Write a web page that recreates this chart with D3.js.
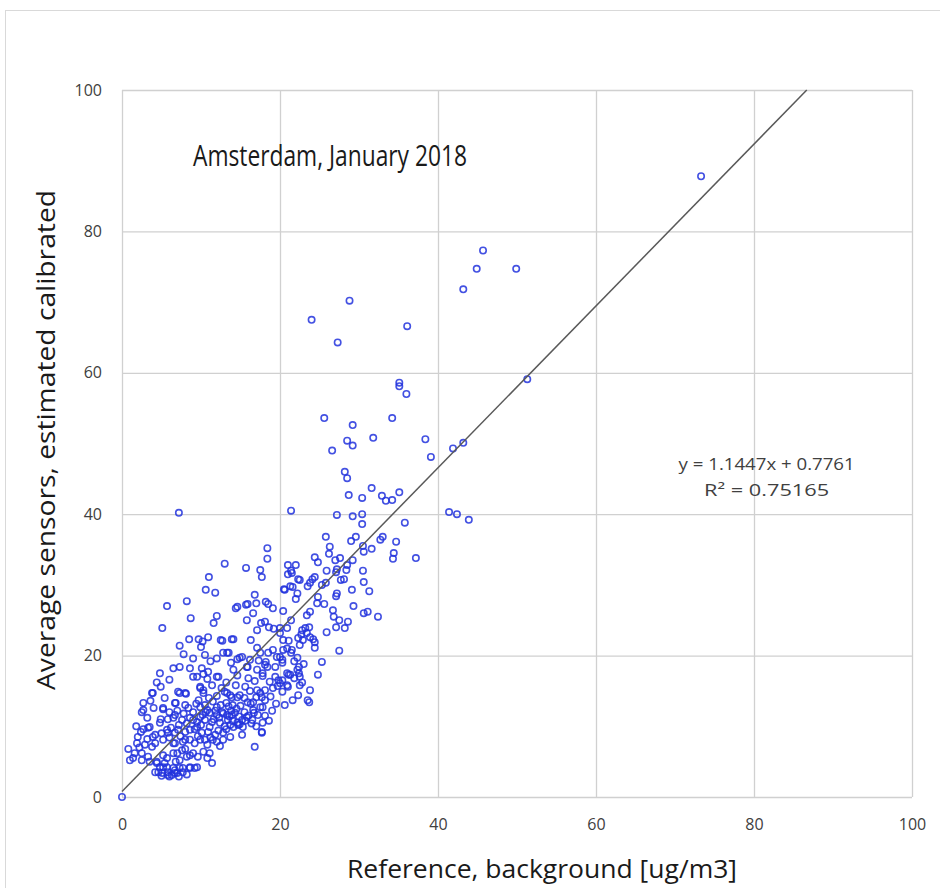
<!DOCTYPE html>
<html>
<head>
<meta charset="utf-8">
<script src="https://cdn.jsdelivr.net/npm/d3@7"></script>
<style>
  body { margin: 0; background: #fff; }
  text { font-family: "Open Sans", sans-serif; }
</style>
</head>
<body>
<svg id="chart"></svg>
<script>
// chart size and plot margins
const chartWidth = 940, chartHeight = 888;
var margin = {top: 90, right: 28, bottom: 91, left: 122},
    width = chartWidth - margin.left - margin.right,
    height = chartHeight - margin.top - margin.bottom;

// tick labels
const xTicks = [0, 20, 40, 60, 80, 100];
const yTicks = [0, 20, 40, 60, 80, 100];

// trendline fit
const slope = 1.1447, intercept = 0.7761;
const fitLabels = ["y = 1.1447x + 0.7761", "R² = 0.75165"];

// points [reference, sensors], grouped by area of the cloud
const outliers = [[73.3,87.8],[45.7,77.3],[44.9,74.7],[49.9,74.7],[43.2,71.8],[28.8,70.2],[24.0,67.5],[36.1,66.6],
  [27.3,64.3],[51.3,59.1],[35.1,58.6],[35.1,58.1],[36.0,57.0],[7.2,40.2],[21.4,40.5],[41.4,40.3],[42.4,40.0],
  [43.9,39.2],[41.9,49.3],[43.2,50.1],[38.4,50.6],[39.1,48.1]];

const upperPoints = [[25.6,53.6],[29.2,52.6],[34.2,53.6],[31.8,50.8],[28.5,50.4],[29.2,49.7],[26.6,49.0],[28.2,46.0],
  [28.5,45.1],[31.6,43.7],[28.7,42.7],[30.4,42.3],[32.9,42.6],[33.4,41.9],[34.2,42.0],[35.1,43.1]];

const midPoints = [[27.2,39.9],[29.2,39.7],[30.4,40.0],[30.4,38.6],[35.8,38.8],[29.6,36.8],[29.0,36.2],[32.7,36.4],
  [33.0,36.8],[34.7,36.1],[30.5,35.5],[31.6,35.1],[30.6,34.7],[34.4,34.5],[34.3,33.7],[37.2,33.8],[26.3,35.4],
  [27.0,33.5],[27.6,33.8],[29.2,33.5],[30.5,32.0],[28.4,32.1],[27.2,32.2],[25.8,36.8],[26.2,34.4],[18.4,35.2],
  [18.4,33.7],[13.0,33.0],[15.7,32.4],[17.5,32.1],[17.7,31.1],[21.0,32.8],[22.0,32.8],[21.4,32.0],[21.0,31.5],
  [24.4,33.9],[24.8,33.2],[25.9,32.0],[27.1,31.8],[28.5,32.8],[28.1,30.8],[27.7,30.7],[30.6,30.4],[31.3,29.1],
  [29.1,29.3],[27.2,28.8],[27.1,28.4],[22.3,30.8],[23.5,29.8],[24.1,30.8],[25.3,30.0],[25.8,30.3],[24.8,28.3],
  [20.5,29.4],[21.3,29.8],[22.2,28.8],[22.0,28.0],[11.0,31.1],[10.6,29.3],[11.8,28.9],[8.2,27.7],[5.7,27.0],
  [20.6,29.3],[21.6,29.7],[22.5,30.7],[23.8,30.3],[24.4,31.1],[21.5,31.7]];

const lowerMidPoints = [[25.6,27.3],[24.7,27.4],[23.4,25.7],[23.8,26.2],[20.4,26.3],[21.4,25.0],[20.9,23.9],[20.0,23.9],
  [16.8,28.6],[15.9,27.3],[17.0,27.4],[14.4,26.7],[15.7,27.2],[18.2,27.6],[18.5,27.3],[19.1,26.7],[16.6,26.0],
  [17.6,24.6],[18.1,24.8],[17.1,23.6],[18.6,24.0],[26.7,26.4],[26.8,25.5],[27.5,25.0],[28.6,24.8],[27.1,24.0],
  [28.2,23.9],[25.9,23.3],[30.6,26.0],[32.4,25.5],[22.7,23.0],[23.2,23.9],[23.7,24.0],[24.2,22.3],[24.4,21.1],
  [27.5,20.7],[25.3,19.1],[22.2,19.7],[21.1,22.1],[20.4,22.2],[20.4,20.8],[21.4,20.4],[20.0,19.8],[20.3,19.4],
  [22.4,18.4],[22.4,17.5],[21.1,17.3],[24.8,17.3],[16.3,22.2],[17.1,21.1],[13.9,22.3],[12.5,22.2],[18.5,20.4],
  [17.5,20.4],[13.3,20.4],[14.9,19.7],[18.2,19.1],[19.4,18.4],[17.8,17.5],[15.9,18.4],[14.1,18.0],[8.7,25.3],
  [12.0,25.6],[11.6,24.6],[5.1,23.9],[8.5,22.3],[9.7,22.3],[10.2,22.0],[10.9,22.6],[12.7,22.1],[14.6,26.9],
  [15.8,25.0],[7.3,21.4],[7.8,20.2],[10.5,20.1],[12.8,20.4],[13.5,20.4],[14.6,19.5],[15.2,19.8],[10.0,21.2],
  [6.5,18.2],[7.3,18.4],[8.6,18.2],[10.1,18.2],[10.9,17.7],[9.0,17.0],[12.2,17.0],[4.8,17.5],[22.8,23.6],
  [23.4,23.2],[24.4,21.9],[23.8,22.6],[22.3,22.5],[20.0,23.2],[19.2,23.8],[22.5,21.5],[21.5,20.8],[19.1,20.8],
  [16.2,19.4],[15.8,18.4],[17.1,18.0],[18.4,18.4],[20.3,19.0],[22.2,18.0],[22.9,22.2],[18.1,18.7],[20.9,21.0],
  [31.1,26.2],[29.3,27.0],[14.1,22.3]];

const densePoints = [[17.8,17.1],[18.7,16.3],[19.4,17.0],[20.3,16.5],[21.3,17.3],[20.9,15.8],[19.7,15.7],[17.1,15.1],
  [17.7,14.1],[17.8,12.7],[17.2,11.6],[17.8,10.5],[17.7,9.2],[16.5,10.9],[16.6,12.3],[15.9,13.4],[14.9,14.4],
  [13.9,14.1],[13.9,11.6],[15.2,10.9],[20.9,17.5],[22.5,17.0],[20.0,16.1],[21.0,15.6],[22.5,15.8],[23.8,15.1],
  [22.3,14.4],[21.6,13.7],[23.5,13.7],[23.7,13.4],[20.3,14.9],[19.1,15.4],[18.1,15.1],[16.6,13.4],[17.5,12.7],
  [18.1,13.7],[16.8,7.1],[3.9,14.7],[4.9,15.6],[7.1,14.9],[8.0,14.7],[9.9,15.4],[10.3,14.7],[13.3,14.7],
  [2.7,13.3],[2.7,12.3],[5.2,12.4],[6.7,13.3],[8.0,13.0],[9.0,12.0],[9.9,12.7],[10.8,12.3],[12.0,12.7],
  [12.7,12.0],[13.3,11.6],[14.3,11.9],[4.9,11.0],[6.5,11.2],[7.6,10.9],[8.6,11.2],[9.5,10.6],[10.5,10.9],
  [11.4,10.6],[12.4,10.5],[13.7,10.2],[14.6,10.5],[2.7,9.6],[3.3,9.8],[2.0,8.5],[3.9,8.5],[5.8,9.1],[7.1,9.5],
  [8.0,9.2],[9.2,9.6],[10.1,9.1],[10.9,9.2],[11.8,8.8],[12.8,9.1],[13.7,8.5],[1.9,7.6],[2.9,7.4],[3.8,7.1],
  [5.2,8.1],[6.7,7.6],[8.0,8.1],[9.2,7.6],[10.5,8.1],[12.0,7.8],[1.4,5.5],[2.5,6.2],[3.3,5.7],[5.2,5.9],
  [6.5,6.2],[7.6,6.6],[8.6,5.9],[9.6,5.7],[4.4,4.8],[4.2,3.5],[5.1,3.4],[5.8,3.1],[6.7,3.4],[7.7,3.5],[8.6,4.1],
  [9.5,4.2],[5.2,4.2],[6.5,4.1],[11.4,4.8],[10.8,5.5],[7.3,14.7],[8.1,14.6],[9.9,15.6],[10.3,15.1],[13.0,14.9],
  [13.7,14.4],[14.6,14.1],[16.3,13.2],[17.0,14.1],[17.5,14.7],[16.7,11.9],[18.1,11.5],[15.8,11.3],[14.9,10.3],
  [14.1,9.9],[13.4,10.9],[12.0,11.6],[11.1,11.9],[9.9,11.3],[9.0,10.9],[6.7,11.6],[5.8,11.0],[4.8,10.5],
  [3.5,9.9],[2.4,9.2],[5.7,9.5],[6.7,9.1],[8.6,9.5],[9.5,9.9],[11.1,9.9],[14.7,10.2],[15.3,9.9],[17.7,9.1],
  [12.8,8.1],[11.5,8.1],[9.9,8.1],[8.6,8.1],[7.7,7.8],[6.5,7.6],[4.2,7.6],[1.6,6.2],[2.5,5.2],[3.5,5.0],
  [5.7,5.5],[7.0,6.2],[7.3,5.2],[8.2,5.7],[9.0,6.2],[10.3,6.4],[11.1,6.2],[8.6,4.2],[9.2,4.1],[7.7,4.1],
  [6.7,3.8],[5.8,3.5],[4.6,3.5],[4.8,4.2],[5.7,4.2],[6.3,3.1],[7.0,3.4],[7.3,4.1],[4.4,5.0],[2.5,12.0],
  [5.2,12.6],[6.8,13.3],[9.7,13.7],[3.8,14.7],[10.3,17.4],[10.8,16.7],[9.5,17.0],[12.0,17.0],[0,0],
  [11.5,13.5],[12.5,13.0],[13.5,12.8],[14.5,12.5],[15.5,12.0],[12.3,11.2],[13.0,10.0],[14.0,10.8],[15.0,12.9],
  [16.0,11.5],[10.5,13.0],[11.0,14.0],[12.0,14.3],[13.2,13.3],[14.0,13.0],[15.5,14.0],[16.2,15.0],[11.8,12.2],
  [13.6,11.4],[10.2,11.6]];

const clusterCore = [[6.0,12.0],[7.0,12.2],[7.8,11.8],[8.4,12.6],[9.4,13.2],[10.6,12.0],[11.6,11.0],[12.8,11.8],
  [13.8,12.2],[14.8,11.4],[15.6,10.8],[16.4,10.4],[17.0,10.0],[15.2,8.8],[13.2,9.6],[12.2,9.4],[11.2,8.4],
  [10.0,10.2],[8.2,10.4],[7.2,10.2],[6.2,9.8],[5.0,9.0],[4.2,8.8],[3.2,8.2],[6.0,8.4],[7.4,8.6],[9.6,8.6],
  [10.8,7.4],[12.4,7.2],[8.0,6.8],[6.8,5.0],[5.4,4.8],[6.0,2.9],[7.2,2.9],[5.0,3.0],[8.2,3.2],[18.8,14.2],
  [19.5,13.2],[20.6,13.0],[19.0,12.2],[18.6,10.8],[19.8,16.5],[21.8,16.8],[22.8,16.2],[23.0,18.8],[21.8,19.2],
  [19.6,19.8],[16.8,16.4],[15.6,15.6],[14.4,15.8],[13.2,16.2],[12.6,15.4],[11.4,15.8],[16.0,16.8],[14.6,17.2],
  [17.3,19.3],[13.8,19.0],[12.0,19.6],[11.2,19.2],[9.0,19.6],[6.0,16.6],[5.4,14.0],[4.0,12.6],[3.2,11.2],
  [1.8,10.0],[2.2,7.0],[1.0,5.2],[0.8,6.8],[3.6,13.6],[4.4,16.2]];

const allPoints = outliers.concat(upperPoints, midPoints, lowerMidPoints, densePoints, clusterCore);

var svg = d3.select("#chart")
    .attr("width", chartWidth)
    .attr("height", chartHeight);

// outer chart frame
svg.append("rect")
    .attr("x", 5.5).attr("y", 10.5)
    .attr("width", chartWidth).attr("height", chartHeight)
    .attr("fill", "#fff")
    .attr("stroke", "#d9d9d9");

var g = svg.append("g")
    .attr("transform", "translate(" + margin.left + "," + margin.top + ")");

var x = d3.scaleLinear().domain([0, 100]).range([0, width]);
var y = d3.scaleLinear().domain([0, 100]).range([height, 0]);

// gridlines
g.append("g")
    .attr("transform", "translate(0," + height + ")")
    .call(d3.axisBottom(x).tickValues(xTicks).tickSize(-height).tickFormat(""))
    .call(a => a.select(".domain").remove())
    .selectAll("line").attr("stroke", "#d0d0d0").attr("stroke-width", 1.3);
g.append("g")
    .call(d3.axisLeft(y).tickValues(yTicks).tickSize(-width).tickFormat(""))
    .call(a => a.select(".domain").remove())
    .selectAll("line").attr("stroke", "#d0d0d0").attr("stroke-width", 1.3);

// tick labels
g.append("g")
    .attr("transform", "translate(0," + height + ")")
    .call(d3.axisBottom(x).tickValues(xTicks).tickSize(0).tickPadding(22))
    .call(a => a.select(".domain").remove())
    .selectAll("text").attr("font-size", 16).attr("fill", "#404040")
    .style("font-family", '"Open Sans", sans-serif');
g.append("g")
    .call(d3.axisLeft(y).tickValues(yTicks).tickSize(0).tickPadding(20))
    .call(a => a.select(".domain").remove())
    .selectAll("text").attr("font-size", 16).attr("fill", "#404040")
    .style("font-family", '"Open Sans", sans-serif');

// points
g.selectAll("circle.pt")
    .data(allPoints)
    .enter()
    .append("circle")
      .attr("class", "pt")
      .attr("cx", d => x(d[0]))
      .attr("cy", d => y(d[1]))
      .attr("r", 3.2)
      .attr("fill", "none")
      .attr("stroke", "#2233dd")
      .attr("stroke-opacity", 0.85)
      .attr("stroke-width", 1.6);

// trendline
var xEnd = (100 - intercept) / slope;
g.append("line")
    .attr("x1", x(0)).attr("y1", y(intercept))
    .attr("x2", x(xEnd)).attr("y2", y(100))
    .attr("stroke", "#595959")
    .attr("stroke-width", 1.5);

// fit equation (narrow font look)
const fitWidths = [176, 125];
g.selectAll("text.fit")
    .data(fitLabels)
    .enter()
    .append("text")
      .attr("class", "fit")
      .attr("x", x(81.6))
      .attr("y", (d, i) => 380 + i * 26)
      .attr("text-anchor", "middle")
      .attr("font-size", 16)
      .attr("fill", "#404040")
      .attr("textLength", (d, i) => fitWidths[i])
      .attr("lengthAdjust", "spacingAndGlyphs")
      .text(d => d);

// title inside the plot
g.append("text")
    .attr("x", 71)
    .attr("y", 76)
    .attr("font-size", 29)
    .attr("fill", "#1a1a1a")
    .attr("textLength", 274)
    .attr("lengthAdjust", "spacingAndGlyphs")
    .text("Amsterdam, January 2018");

// axis titles
svg.append("text")
    .attr("x", 542)
    .attr("y", 878)
    .attr("text-anchor", "middle")
    .attr("font-size", 26)
    .attr("fill", "#1a1a1a")
    .attr("textLength", 390)
    .attr("lengthAdjust", "spacingAndGlyphs")
    .text("Reference, background [ug/m3]");
svg.append("text")
    .attr("transform", "translate(55,440)rotate(-90)")
    .attr("text-anchor", "middle")
    .attr("font-size", 26)
    .attr("fill", "#1a1a1a")
    .attr("textLength", 500)
    .attr("lengthAdjust", "spacingAndGlyphs")
    .text("Average sensors, estimated calibrated");
</script>
</body>
</html>
